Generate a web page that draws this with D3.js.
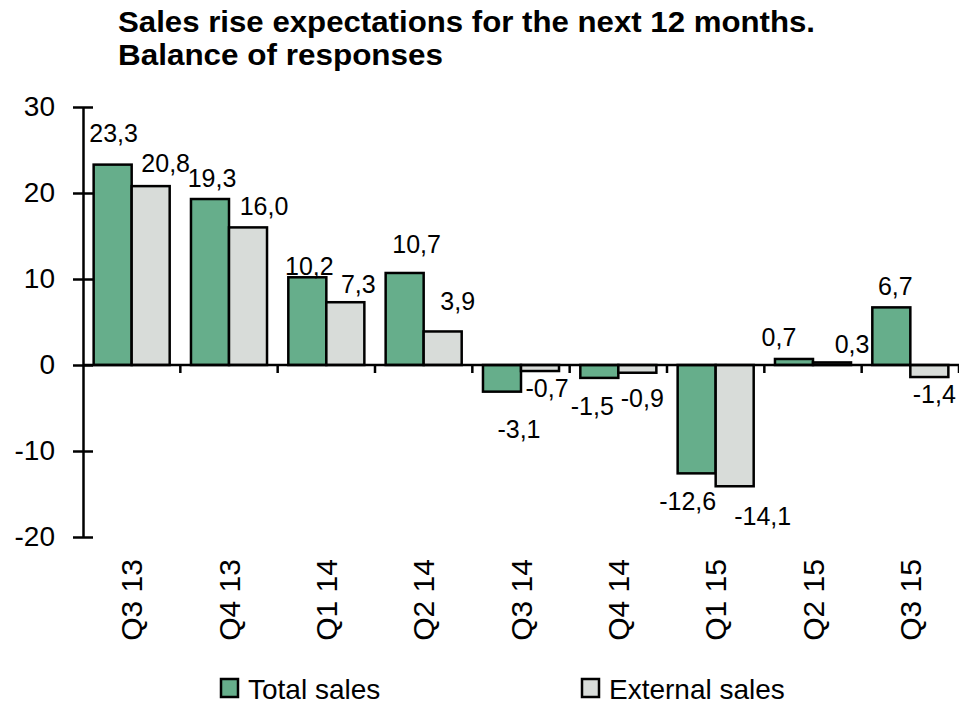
<!DOCTYPE html>
<html>
<head>
<meta charset="utf-8">
<script src="https://cdn.jsdelivr.net/npm/d3@7"></script>
<style>
  html, body { margin: 0; padding: 0; background: #fff; }
  svg { display: block; font-family: "Liberation Sans", Arial, sans-serif; }
</style>
</head>
<body>
<svg id="chart" width="959" height="706"></svg>
<script>
// ---- data ----
const categories = ["Q3 13", "Q4 13", "Q1 14", "Q2 14", "Q3 14", "Q4 14", "Q1 15", "Q2 15", "Q3 15"];
const totalSales = [23.3, 19.3, 10.2, 10.7, -3.1, -1.5, -12.6, 0.7, 6.7];
const externalSales = [20.8, 16.0, 7.3, 3.9, -0.7, -0.9, -14.1, 0.3, -1.4];
const seriesNames = ["Total sales", "External sales"];
const yTicks = [30, 20, 10, 0, -10, -20];
const titleLines = ["Sales rise expectations for the next 12 months.", "Balance of responses"];

// ---- label layout nudges (pixels, relative to bar centre / bar end) ----
const totalLabelDx = [1, 2, 2, 12, 17, -7, -9, -15, 4];
const totalLabelDy = [-23, -12, -2, -20, 46, 37, 37, -13, -12];
const extLabelDx = [15, 16, 13, 15, 7, 5, 28, 20, 5];
const extLabelDy = [-14, -12, -9, -21, 26, 34, 39, -9, 26];

const colors = ["#66AE8B", "#D8DCD9"];
const fmt = v => v.toFixed(1).replace(".", ",");

const svg = d3.select("#chart");
const x0 = 83, x1 = 959;
const y = d3.scaleLinear().domain([-20, 30]).range([537, 107]);
const x = d3.scaleBand().domain(categories).range([x0, x1]).paddingInner(0).paddingOuter(0);
const xs = d3.scaleBand().domain([0, 1]).range([0, x.bandwidth()]).paddingInner(0).paddingOuter(0.28);

// title
svg.append("g").selectAll("text").data(titleLines).join("text")
  .attr("x", 118).attr("y", (d, i) => 32 + i * 33)
  .attr("font-size", 30).attr("font-weight", "bold").attr("fill", "#000")
  .attr("textLength", (d, i) => i === 0 ? 697 : 325)
  .attr("lengthAdjust", "spacingAndGlyphs")
  .text(d => d);

// bars
const series = [totalSales, externalSales];
const dxs = [totalLabelDx, extLabelDx];
const dys = [totalLabelDy, extLabelDy];
series.forEach((vals, s) => {
  const g = svg.append("g");
  g.selectAll("rect").data(vals).join("rect")
    .attr("x", (d, i) => x(categories[i]) + xs(s))
    .attr("width", xs.bandwidth())
    .attr("y", d => y(Math.max(0, d)))
    .attr("height", d => Math.abs(y(d) - y(0)))
    .attr("fill", colors[s])
    .attr("stroke", "#000").attr("stroke-width", 2.5);
  g.selectAll("text").data(vals).join("text")
    .attr("x", (d, i) => x(categories[i]) + xs(s) + xs.bandwidth() / 2 + dxs[s][i])
    .attr("y", (d, i) => y(d) + dys[s][i])
    .attr("text-anchor", "middle")
    .attr("font-size", 25).attr("fill", "#000")
    .text(d => fmt(d));
});

// y axis
const yAxis = d3.axisLeft(y).tickValues(yTicks).tickSize(0).tickPadding(28).tickFormat(d => String(d));
const gy = svg.append("g").attr("transform", `translate(${x0},0)`).call(yAxis);
gy.select(".domain").attr("stroke", "#000").attr("stroke-width", 2.5);
gy.selectAll(".tick text").attr("font-size", 28).attr("fill", "#000")
  .attr("font-family", "Liberation Sans, Arial, sans-serif");
gy.selectAll(".tick").append("line").attr("x1", -10).attr("x2", 10).attr("stroke", "#000").attr("stroke-width", 2.5);

// x axis at zero
const gx = svg.append("g").attr("transform", `translate(0,${y(0)})`);
gx.append("line").attr("x1", x0).attr("x2", x1).attr("stroke", "#000").attr("stroke-width", 2.5);
gx.selectAll("line.tk").data(categories.slice(1).concat(["end"])).join("line")
  .attr("class", "tk")
  .attr("x1", (d, i) => x0 + (i + 1) * x.bandwidth())
  .attr("x2", (d, i) => x0 + (i + 1) * x.bandwidth())
  .attr("y1", 0).attr("y2", 8).attr("stroke", "#000").attr("stroke-width", 2.5);

// category labels (rotated)
svg.append("g").selectAll("text").data(categories).join("text")
  .attr("transform", d => `translate(${x(d) + x.bandwidth() / 2},559) rotate(-90)`)
  .attr("text-anchor", "end").attr("dy", "0.35em")
  .attr("font-size", 30).attr("fill", "#000")
  .text(d => d);

// legend
const legX = [221, 582];
const lg = svg.append("g").selectAll("g").data(seriesNames).join("g")
  .attr("transform", (d, i) => `translate(${legX[i]},679)`);
lg.append("rect").attr("width", 17).attr("height", 18)
  .attr("fill", (d, i) => colors[i]).attr("stroke", "#000").attr("stroke-width", 2.5);
lg.append("text").attr("x", 27).attr("y", 20).attr("font-size", 28).attr("fill", "#000")
  .text(d => d);
</script>
</body>
</html>
